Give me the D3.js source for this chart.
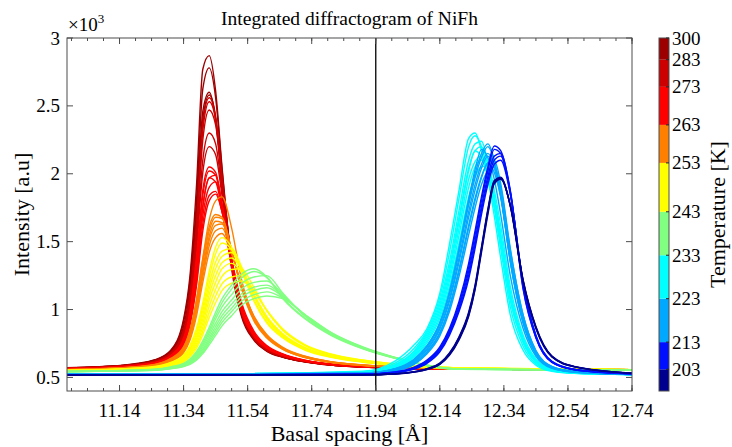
<!DOCTYPE html>
<html>
<head>
<meta charset="utf-8">
<script src="https://cdn.jsdelivr.net/npm/d3@7"></script>
<style>
  body { margin: 0; background: #fff; }
  text { font-family: "Liberation Serif", "DejaVu Serif", serif; fill: #000; }
</style>
</head>
<body>
<div id="chart"></div>
<script>
// x grids (Å) shared by the curves of each peak family
const xLeft = [10.976, 11.15, 11.25, 11.30, 11.34, 11.36, 11.38, 11.40, 11.42, 11.44, 11.46, 11.49,
  11.52, 11.56, 11.60, 11.65, 11.72, 11.80, 11.90, 12.00, 12.20, 12.74];
const xRight = [10.976, 11.50, 11.90, 12.00, 12.06, 12.10, 12.14, 12.17, 12.20, 12.23, 12.25, 12.27,
  12.29, 12.31, 12.33, 12.36, 12.40, 12.44, 12.49, 12.56, 12.74];

// intensities (counts), one row per measured temperature, coldest first
const navyCurves = [
  [515, 515, 518, 525, 539, 558, 595, 662, 776, 948, 1145, 1420, 1700, 1925, 1960, 1770, 1220, 875, 657, 581, 532],
  [515, 515, 518, 525, 540, 560, 598, 668, 784, 958, 1155, 1435, 1715, 1935, 1965, 1770, 1215, 870, 655, 580, 532],
  [516, 516, 519, 526, 542, 563, 602, 675, 793, 970, 1170, 1450, 1730, 1945, 1970, 1765, 1210, 865, 652, 579, 531],
  [516, 516, 519, 527, 543, 565, 605, 680, 800, 980, 1180, 1460, 1740, 1950, 1975, 1760, 1200, 860, 650, 578, 531]
];
const blueCurves = [
  [518, 519, 522, 535, 562, 604, 688, 810, 985, 1225, 1450, 1700, 1920, 2070, 2100, 1850, 1200, 810, 618, 560, 527],
  [518, 519, 523, 536, 565, 610, 697, 822, 1000, 1250, 1480, 1730, 1950, 2100, 2130, 1860, 1190, 805, 616, 559, 527],
  [518, 519, 523, 537, 568, 616, 706, 835, 1020, 1280, 1510, 1760, 1980, 2130, 2150, 1870, 1180, 800, 614, 558, 527],
  [519, 520, 524, 539, 572, 622, 716, 848, 1040, 1310, 1550, 1800, 2020, 2180, 2150, 1860, 1160, 795, 612, 557, 526],
  [519, 520, 524, 540, 575, 628, 725, 860, 1060, 1340, 1580, 1830, 2050, 2205, 2170, 1880, 1150, 790, 610, 556, 526]
];
const lightBlueCurves = [
  [521, 522, 527, 548, 596, 674, 806, 985, 1245, 1550, 1750, 1920, 2020, 2050, 1900, 1440, 960, 698, 582, 545, 524],
  [521, 522, 527, 550, 602, 684, 822, 1010, 1280, 1600, 1800, 1970, 2080, 2010, 1830, 1390, 930, 686, 577, 543, 523],
  [522, 523, 528, 552, 606, 690, 832, 1025, 1300, 1620, 1820, 1980, 2080, 2100, 1930, 1450, 960, 695, 580, 544, 523],
  [522, 523, 529, 555, 614, 703, 855, 1060, 1350, 1680, 1880, 2040, 2130, 2050, 1850, 1380, 920, 680, 575, 542, 523],
  [522, 523, 530, 558, 620, 712, 870, 1080, 1380, 1720, 1920, 2070, 2150, 2050, 1830, 1360, 910, 676, 573, 541, 523],
  [523, 524, 531, 562, 630, 730, 900, 1130, 1450, 1810, 2030, 2180, 2120, 1960, 1700, 1250, 860, 655, 566, 538, 522],
  [523, 524, 531, 562, 628, 725, 890, 1110, 1420, 1770, 1970, 2120, 2200, 2090, 1850, 1360, 905, 672, 571, 540, 522],
  [523, 524, 532, 565, 635, 735, 905, 1130, 1450, 1800, 2000, 2150, 2220, 2100, 1850, 1350, 900, 670, 570, 540, 522]
];
const cyanCurves = [
  [525, 526, 535, 572, 648, 755, 935, 1170, 1490, 1830, 1980, 2050, 2060, 1880, 1620, 1170, 810, 636, 561, 536, 522],
  [525, 526, 536, 576, 656, 770, 960, 1210, 1550, 1900, 2050, 2100, 2010, 1820, 1560, 1130, 790, 628, 558, 535, 522],
  [525, 526, 537, 580, 665, 785, 985, 1245, 1600, 1960, 2090, 2130, 2020, 1810, 1540, 1110, 780, 624, 556, 534, 522],
  [526, 527, 538, 585, 675, 800, 1010, 1280, 1650, 2020, 2170, 2120, 1980, 1760, 1490, 1070, 760, 615, 553, 533, 522],
  [526, 527, 539, 590, 685, 815, 1035, 1310, 1680, 2040, 2170, 2200, 2060, 1830, 1540, 1100, 770, 618, 554, 533, 522],
  [526, 527, 540, 595, 695, 830, 1060, 1350, 1730, 2100, 2220, 2240, 2080, 1830, 1530, 1080, 760, 612, 552, 532, 522],
  [527, 528, 542, 605, 715, 845, 1090, 1420, 1820, 2200, 2280, 2200, 2010, 1750, 1450, 1020, 730, 600, 548, 531, 522],
  [527, 528, 545, 620, 740, 860, 1120, 1480, 1880, 2260, 2300, 2170, 1960, 1690, 1380, 960, 700, 590, 545, 530, 522]
];
const greenCurves = [
  [542, 548, 553, 564, 579, 596, 626, 675, 740, 810, 880, 955, 1030, 1080, 1100, 1080, 962, 832, 724, 648, 562, 552],
  [542, 548, 554, 566, 582, 601, 634, 686, 756, 830, 905, 985, 1060, 1110, 1130, 1085, 960, 830, 722, 647, 562, 552],
  [543, 549, 555, 568, 585, 606, 642, 698, 772, 852, 930, 1010, 1090, 1140, 1160, 1095, 958, 828, 720, 646, 562, 552],
  [543, 549, 556, 570, 588, 612, 650, 710, 790, 875, 955, 1040, 1115, 1165, 1180, 1100, 955, 825, 718, 645, 561, 552],
  [544, 550, 557, 572, 592, 618, 660, 725, 810, 900, 985, 1070, 1150, 1200, 1210, 1110, 950, 822, 716, 644, 561, 552],
  [544, 550, 558, 574, 596, 624, 670, 740, 830, 930, 1020, 1110, 1190, 1240, 1250, 1120, 950, 820, 715, 643, 561, 552],
  [545, 551, 559, 576, 600, 630, 680, 755, 850, 955, 1050, 1150, 1230, 1280, 1235, 1085, 935, 815, 712, 642, 560, 552],
  [545, 552, 560, 578, 604, 636, 690, 770, 870, 980, 1080, 1180, 1260, 1300, 1240, 1080, 930, 810, 710, 640, 560, 552]
];
const yellowCurves = [
  [549, 556, 564, 584, 612, 652, 714, 815, 940, 1050, 1140, 1195, 1210, 1130, 995, 856, 740, 673, 628, 599, 570, 557],
  [549, 557, 566, 587, 618, 662, 730, 840, 980, 1100, 1190, 1240, 1250, 1140, 990, 850, 736, 670, 626, 598, 570, 557],
  [550, 558, 568, 590, 625, 672, 748, 870, 1025, 1150, 1245, 1295, 1300, 1160, 990, 845, 732, 668, 624, 597, 570, 557],
  [550, 559, 570, 594, 632, 682, 765, 900, 1070, 1200, 1300, 1340, 1280, 1110, 950, 822, 720, 661, 620, 595, 569, 557],
  [551, 560, 572, 597, 638, 692, 782, 930, 1110, 1250, 1345, 1380, 1300, 1105, 940, 815, 716, 658, 619, 594, 569, 557],
  [551, 561, 574, 600, 644, 702, 800, 960, 1150, 1300, 1390, 1420, 1310, 1100, 935, 810, 712, 656, 617, 593, 568, 557],
  [552, 562, 576, 604, 650, 712, 820, 990, 1190, 1350, 1430, 1450, 1320, 1100, 930, 805, 708, 654, 616, 592, 568, 557],
  [552, 563, 578, 607, 658, 724, 840, 1020, 1240, 1410, 1490, 1440, 1290, 1070, 910, 796, 704, 651, 614, 591, 568, 557],
  [553, 564, 580, 610, 665, 735, 860, 1050, 1280, 1460, 1530, 1460, 1290, 1060, 900, 790, 700, 648, 612, 590, 568, 557]
];
const orangeCurves = [
  [555, 566, 584, 618, 682, 775, 950, 1200, 1420, 1530, 1560, 1410, 1180, 950, 815, 722, 656, 616, 592, 578, 565, 557],
  [555, 567, 586, 622, 690, 788, 975, 1240, 1470, 1580, 1600, 1420, 1180, 945, 810, 718, 654, 615, 591, 577, 565, 557],
  [556, 568, 588, 625, 698, 800, 995, 1270, 1510, 1620, 1630, 1430, 1180, 940, 805, 715, 652, 614, 591, 577, 565, 557],
  [556, 569, 590, 628, 705, 812, 1015, 1300, 1540, 1650, 1640, 1430, 1170, 930, 800, 712, 650, 613, 590, 577, 565, 557],
  [557, 570, 592, 632, 712, 825, 1040, 1340, 1580, 1680, 1670, 1440, 1170, 925, 795, 709, 648, 612, 589, 576, 565, 557],
  [557, 571, 594, 636, 720, 840, 1060, 1370, 1610, 1700, 1680, 1440, 1160, 915, 790, 706, 646, 611, 589, 576, 565, 557],
  [558, 572, 596, 640, 725, 850, 1070, 1380, 1660, 1800, 1830, 1600, 1230, 940, 800, 710, 647, 611, 588, 576, 565, 557]
];
const redCurves = [
  [563, 575, 598, 642, 735, 885, 1170, 1580, 1800, 1850, 1720, 1370, 1060, 840, 735, 674, 627, 598, 581, 571, 563, 556],
  [563, 576, 600, 645, 742, 900, 1200, 1630, 1840, 1870, 1720, 1350, 1040, 828, 728, 670, 625, 597, 580, 570, 562, 555],
  [564, 577, 602, 648, 752, 920, 1240, 1690, 1900, 1940, 1770, 1370, 1040, 825, 726, 669, 624, 597, 580, 570, 562, 555],
  [564, 578, 604, 652, 762, 940, 1280, 1760, 1970, 1940, 1730, 1320, 1005, 812, 720, 666, 623, 596, 579, 570, 562, 555],
  [565, 579, 606, 655, 770, 955, 1300, 1760, 1970, 1990, 1780, 1350, 1020, 815, 720, 666, 623, 596, 579, 570, 562, 555],
  [565, 580, 608, 658, 780, 975, 1350, 1840, 2020, 1990, 1750, 1320, 1000, 808, 717, 664, 622, 595, 579, 570, 562, 555],
  [566, 581, 610, 662, 790, 990, 1380, 1880, 2050, 2010, 1760, 1320, 995, 805, 715, 662, 621, 595, 579, 570, 562, 555]
];
const darkRedCurves = [
  [566, 582, 612, 666, 805, 1020, 1440, 2010, 2200, 2140, 1840, 1340, 1000, 802, 712, 660, 620, 594, 578, 569, 562, 555],
  [567, 583, 614, 670, 815, 1040, 1480, 2100, 2300, 2220, 1880, 1350, 1000, 800, 710, 658, 619, 594, 578, 569, 562, 555],
  [567, 584, 616, 675, 830, 1070, 1540, 2250, 2470, 2360, 1960, 1370, 1000, 796, 706, 656, 618, 593, 578, 569, 562, 555],
  [568, 585, 618, 678, 840, 1090, 1580, 2320, 2530, 2400, 1970, 1360, 990, 790, 702, 654, 617, 592, 577, 569, 562, 555],
  [568, 586, 620, 682, 850, 1110, 1620, 2370, 2560, 2410, 1960, 1345, 980, 785, 699, 652, 616, 592, 577, 569, 562, 555]
];
const darkestCurves = [
  [569, 587, 622, 685, 860, 1130, 1650, 2400, 2580, 2420, 1950, 1330, 970, 780, 696, 650, 615, 591, 577, 569, 562, 555],
  [570, 588, 625, 690, 875, 1160, 1710, 2460, 2600, 2400, 1910, 1300, 956, 773, 692, 648, 614, 591, 577, 569, 562, 555],
  [571, 589, 628, 695, 910, 1210, 1790, 2625, 2780, 2560, 2030, 1345, 990, 790, 703, 652, 616, 593, 578, 570, 563, 556],
  [572, 590, 630, 700, 930, 1250, 1900, 2770, 2870, 2610, 2050, 1350, 980, 790, 700, 650, 615, 592, 578, 570, 563, 556]
];

// colour bands of the colour bar, coldest first; label = temperature at the top of the band
const bandLabels = [203, 213, 223, 233, 243, 253, 263, 273, 283, 300];
const bandColors = ["#00008f", "#0010ff", "#00a8ff", "#00ffff", "#80ff80",
  "#ffff00", "#ff8000", "#ff0000", "#cc0000", "#9c0000"];
const bandCurves = [navyCurves, blueCurves, lightBlueCurves, cyanCurves, greenCurves,
  yellowCurves, orangeCurves, redCurves, darkRedCurves, darkestCurves];
const bandGrids = [xRight, xRight, xRight, xRight, xLeft, xLeft, xLeft, xLeft, xLeft, xLeft];

const xTicks = [11.14, 11.34, 11.54, 11.74, 11.94, 12.14, 12.34, 12.54, 12.74];
const yTicks = [500, 1000, 1500, 2000, 2500, 3000];
const markerX = 11.94;

const svgWidth = 732, svgHeight = 447;
const plot = { left: 67, right: 632, top: 38, bottom: 391 };
const axisGray = "#4d4d4d";

const svg = d3.select("#chart").append("svg")
  .attr("width", svgWidth)
  .attr("height", svgHeight);

const x = d3.scaleLinear().domain([10.976, 12.74]).range([plot.left, plot.right]);
const y = d3.scaleLinear().domain([400, 3000]).range([plot.bottom, plot.top]);

svg.append("defs").append("clipPath").attr("id", "clip")
  .append("rect")
  .attr("x", plot.left).attr("y", plot.top)
  .attr("width", plot.right - plot.left).attr("height", plot.bottom - plot.top);

// build the list of curves, keep colour per curve
const curves = [];
bandCurves.forEach((rows, b) => {
  rows.forEach(row => curves.push({ grid: bandGrids[b], values: row, color: bandColors[b] }));
});

const line = d3.line().curve(d3.curveMonotoneX);

// warmest drawn first, coldest on top
svg.append("g").attr("clip-path", "url(#clip)")
  .selectAll("path")
  .data(curves.slice().reverse())
  .enter()
  .append("path")
  .attr("d", d => line(d.values.map((v, i) => [x(d.grid[i]), y(v)])))
  .attr("fill", "none")
  .attr("stroke", d => d.color)
  .attr("stroke-width", 1.4);

// vertical marker
svg.append("line")
  .attr("x1", x(markerX)).attr("x2", x(markerX))
  .attr("y1", plot.top).attr("y2", plot.bottom)
  .attr("stroke", "#000").attr("stroke-width", 1.3);

// axes box
svg.append("rect")
  .attr("x", plot.left).attr("y", plot.top)
  .attr("width", plot.right - plot.left).attr("height", plot.bottom - plot.top)
  .attr("fill", "none").attr("stroke", axisGray).attr("stroke-width", 1);

const minorX = d3.range(10.99, 12.745, 0.05);

function tickMarks(g, vals, len, side) {
  vals.forEach(v => {
    if (side === "x") {
      const px = x(v);
      g.append("line").attr("x1", px).attr("x2", px).attr("y1", plot.bottom).attr("y2", plot.bottom - len);
      g.append("line").attr("x1", px).attr("x2", px).attr("y1", plot.top).attr("y2", plot.top + len);
    } else {
      const py = y(v);
      g.append("line").attr("x1", plot.left).attr("x2", plot.left + len).attr("y1", py).attr("y2", py);
      g.append("line").attr("x1", plot.right).attr("x2", plot.right - len).attr("y1", py).attr("y2", py);
    }
  });
}

const ticksG = svg.append("g").attr("stroke", axisGray).attr("stroke-width", 1);
tickMarks(ticksG, minorX, 3, "x");
tickMarks(ticksG, xTicks, 6, "x");
tickMarks(ticksG, yTicks, 6, "y");

svg.append("g").selectAll("text")
  .data(xTicks).enter().append("text")
  .attr("x", d => x(d)).attr("y", 417)
  .attr("text-anchor", "middle")
  .style("font-size", "19px")
  .text(d => d.toFixed(2));

svg.append("g").selectAll("text")
  .data(yTicks).enter().append("text")
  .attr("x", 60).attr("y", d => y(d) + 6.5)
  .attr("text-anchor", "end")
  .style("font-size", "19px")
  .text(d => d / 1000);

// exponent
const expo = svg.append("text").attr("x", 68).attr("y", 31).style("font-size", "19px");
expo.append("tspan").text("\u00d710");
expo.append("tspan").attr("dy", -8).style("font-size", "13px").text("3");

svg.append("text")
  .attr("x", (plot.left + plot.right) / 2).attr("y", 25)
  .attr("text-anchor", "middle").style("font-size", "19.5px")
  .text("Integrated diffractogram of NiFh");

svg.append("text")
  .attr("x", (plot.left + plot.right) / 2).attr("y", 441)
  .attr("text-anchor", "middle").style("font-size", "22px")
  .text("Basal spacing [\u00c5]");

svg.append("text")
  .attr("transform", `translate(29, ${(plot.top + plot.bottom) / 2}) rotate(-90)`)
  .attr("text-anchor", "middle").style("font-size", "22px")
  .text("Intensity [a.u]");

// colour bar
const cb = { left: 659, right: 669 };
const counts = bandCurves.map(c => c.length);
const cum = d3.cumsum(counts);
const total = cum[cum.length - 1];
const cy = d3.scaleLinear().domain([0, total]).range([plot.bottom, plot.top]);

svg.append("g").selectAll("rect")
  .data(bandColors).enter().append("rect")
  .attr("x", cb.left).attr("width", cb.right - cb.left)
  .attr("y", (d, i) => cy(cum[i]))
  .attr("height", (d, i) => cy(cum[i] - counts[i]) - cy(cum[i]))
  .attr("fill", d => d);

svg.append("rect")
  .attr("x", cb.left).attr("y", plot.top)
  .attr("width", cb.right - cb.left).attr("height", plot.bottom - plot.top)
  .attr("fill", "none").attr("stroke", axisGray).attr("stroke-width", 1);

svg.append("g").attr("stroke", "#222").selectAll("line")
  .data(cum).enter().append("line")
  .attr("x1", cb.right - 3).attr("x2", cb.right)
  .attr("y1", d => cy(d)).attr("y2", d => cy(d));

svg.append("g").selectAll("text")
  .data(bandLabels).enter().append("text")
  .attr("x", 672).attr("y", (d, i) => cy(cum[i]) + 6.5)
  .style("font-size", "19px")
  .text(d => d);

svg.append("text")
  .attr("transform", `translate(725, ${(plot.top + plot.bottom) / 2}) rotate(-90)`)
  .attr("text-anchor", "middle").style("font-size", "22px")
  .text("Temperature [K]");
</script>
</body>
</html>
